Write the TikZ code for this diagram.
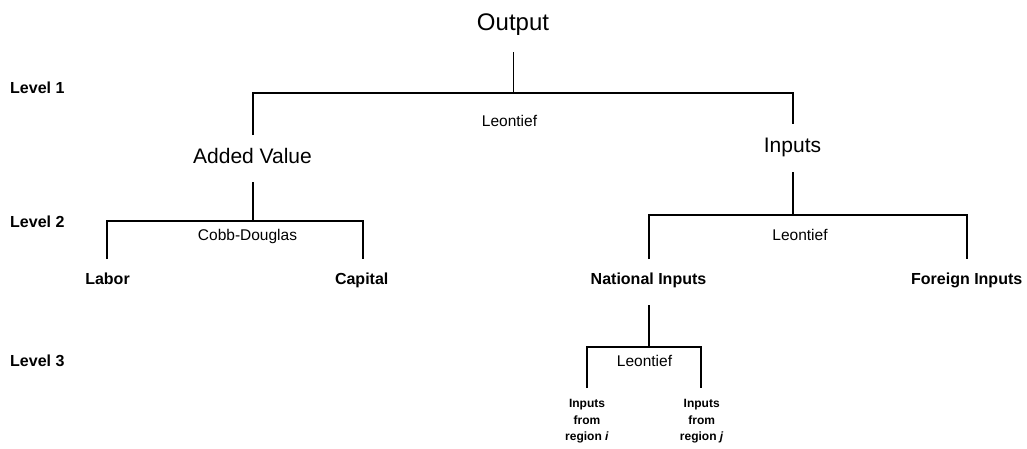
\documentclass[tikz,border=0pt]{standalone}
\usepackage{fontspec}
\setmainfont{Liberation Sans}
\begin{document}
\begin{tikzpicture}[x=1pt,y=-1pt,
  conn/.style={line width=1.8pt},
  big/.style={anchor=base,inner sep=0pt,font=\fontsize{21}{25}\selectfont},
  huge/.style={anchor=base,inner sep=0pt,font=\fontsize{24}{28}\selectfont},
  lab/.style={anchor=base,inner sep=0pt,font=\fontsize{16}{19}\selectfont\bfseries},
  lvl/.style={anchor=base west,inner sep=0pt,font=\fontsize{16}{19}\selectfont\bfseries},
  func/.style={anchor=base,inner sep=0pt,font=\fontsize{15.5}{19}\selectfont},
  small/.style={anchor=base,inner sep=0pt,align=center,font=\fontsize{12}{16.7}\selectfont\bfseries}]
\useasboundingbox (0,0) rectangle (1027,448);
% level labels
\node[lvl] (l1) at (10,93) {Level 1};
\node[lvl] (l2) at (10,227.7) {Level 2};
\node[lvl] (l3) at (10,366) {Level 3};
% nodes
\node[huge] (out) at (513,30.7) {Output};
\node[big] (av) at (252.5,163.3) {Added Value};
\node[big] (inp) at (792.5,152.7) {Inputs};
\node[lab] (labor) at (107.5,284) {Labor};
\node[lab] (cap) at (361.7,284) {Capital};
\node[lab] (nat) at (648.5,284) {National Inputs};
\node[lab] (for) at (966.7,284) {Foreign Inputs};
\node[small,anchor=north] (ri) at (587,399) {Inputs\\from\\region \textit{i}};
\node[small,anchor=north] (rj) at (701.7,399) {Inputs\\from\\region \textit{j}};
% function labels
\node[func] (f1) at (509.5,126.7) {Leontief};
\node[func] (f2) at (247.5,240) {Cobb-Douglas};
\node[func] (f3) at (800,240) {Leontief};
\node[func] (f4) at (644.5,366) {Leontief};
% connector end points
\coordinate (out-s) at (513.5,52);
\coordinate (av-n) at (253.3,135);
\coordinate (inp-n) at (792.7,124);
\coordinate (av-s) at (253.3,182);
\coordinate (labor-n) at (106.7,259);
\coordinate (cap-n) at (362.7,259);
\coordinate (inp-s) at (792.7,172);
\coordinate (nat-n) at (649.3,259);
\coordinate (for-n) at (966.7,259);
\coordinate (nat-s) at (649.3,305);
\coordinate (ri-n) at (586.7,388);
\coordinate (rj-n) at (701,388);
% connectors
\draw[conn] (out-s) -- ++(0,41) coordinate (j1);
\draw[conn] (av-n) |- (j1) -| (inp-n);
\draw[conn] (av-s) -- ++(0,39) coordinate (j2);
\draw[conn] (labor-n) |- (j2) -| (cap-n);
\draw[conn] (inp-s) -- ++(0,43) coordinate (j3);
\draw[conn] (nat-n) |- (j3) -| (for-n);
\draw[conn] (nat-s) -- ++(0,42) coordinate (j4);
\draw[conn] (ri-n) |- (j4) -| (rj-n);
\end{tikzpicture}
\end{document}
